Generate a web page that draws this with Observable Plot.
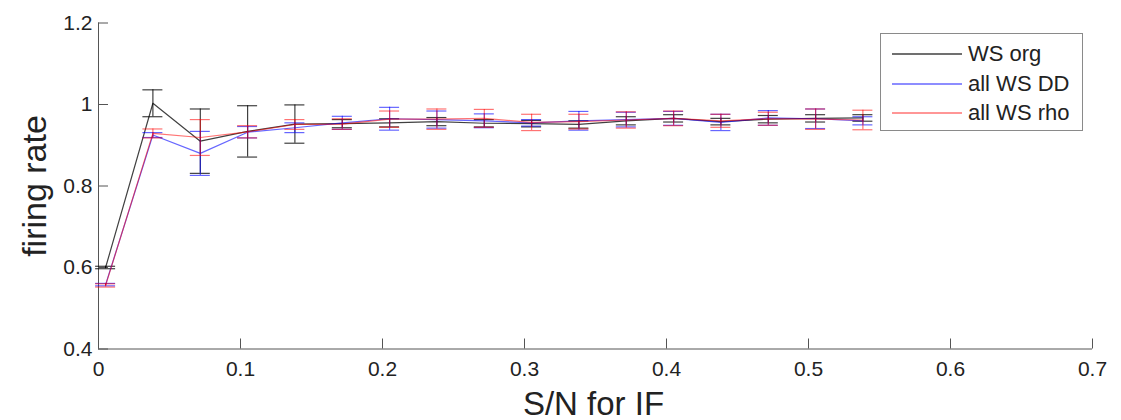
<!DOCTYPE html>
<html>
<head>
<meta charset="utf-8">
<script src="https://cdn.jsdelivr.net/npm/d3@7"></script>
<script src="https://cdn.jsdelivr.net/npm/@observablehq/plot@0.6"></script>
<style>
  html, body { margin: 0; padding: 0; background: #fff; }
  #wrap { position: relative; width: 1121px; height: 420px; font-family: "Liberation Sans", Arial, sans-serif; }
  #legend { position: absolute; left: 880px; top: 33px; width: 201px; height: 96px; border: 1px solid #8a8a8a; background: #fff; box-sizing: content-box; }
  #legend svg.sw { position: absolute; left: 11px; width: 72px; height: 6px; }
  #legend .lbl { position: absolute; left: 87px; font-size: 22px; color: #222; line-height: 24px; white-space: nowrap; }
</style>
</head>
<body>
<div id="wrap"></div>
<script>
// S/N values (x positions of the measurements)
const snValues = [0.005, 0.0383, 0.0717, 0.105, 0.1383, 0.1717, 0.205, 0.2383, 0.2717, 0.305, 0.3383, 0.3717, 0.405, 0.4383, 0.4717, 0.505, 0.5383];

// series names
const seriesNames = ["WS org", "all WS DD", "all WS rho"];

// WS org: mean firing rate and error
const orgMean = [0.600, 1.003, 0.910, 0.934, 0.952, 0.953, 0.955, 0.958, 0.954, 0.953, 0.951, 0.960, 0.966, 0.958, 0.964, 0.966, 0.967];
const orgErr  = [0.003, 0.033, 0.079, 0.063, 0.047, 0.010, 0.010, 0.010, 0.009, 0.008, 0.009, 0.010, 0.009, 0.008, 0.009, 0.009, 0.008];

// all WS DD
const ddMean = [0.558, 0.925, 0.880, 0.932, 0.943, 0.955, 0.965, 0.963, 0.960, 0.955, 0.960, 0.963, 0.966, 0.956, 0.967, 0.965, 0.960];
const ddErr  = [0.003, 0.006, 0.054, 0.014, 0.012, 0.016, 0.028, 0.021, 0.017, 0.008, 0.023, 0.018, 0.017, 0.020, 0.018, 0.024, 0.010];

// all WS rho
const rhoMean = [0.556, 0.929, 0.919, 0.933, 0.951, 0.952, 0.964, 0.964, 0.966, 0.956, 0.958, 0.962, 0.966, 0.960, 0.965, 0.964, 0.962];
const rhoErr  = [0.004, 0.011, 0.044, 0.015, 0.012, 0.013, 0.020, 0.025, 0.022, 0.020, 0.018, 0.020, 0.018, 0.016, 0.016, 0.025, 0.024];

// tick labels
const xTicks = [0, 0.1, 0.2, 0.3, 0.4, 0.5, 0.6, 0.7];
const yTicks = [0.4, 0.6, 0.8, 1.0, 1.2];

const seriesStyle = [
  {color: "#000000", opacity: 0.75},
  {color: "#0000ff", opacity: 0.6},
  {color: "#ff0000", opacity: 0.55}
];

const allMeans = [orgMean, ddMean, rhoMean];
const allErrs = [orgErr, ddErr, rhoErr];

const seriesMarks = [];
allMeans.forEach((means, s) => {
  const rows = snValues.map((x, i) => ({x, y: means[i], lo: means[i] - allErrs[s][i], hi: means[i] + allErrs[s][i]}));
  const st = {stroke: seriesStyle[s].color, strokeOpacity: seriesStyle[s].opacity, strokeWidth: 1.2};
  seriesMarks.push(
    Plot.line(rows, {x: "x", y: "y", ...st}),
    Plot.ruleX(rows, {x: "x", y1: "lo", y2: "hi", ...st}),
    Plot.ruleY(rows, {y: "hi", x1: "x", x2: "x", insetLeft: -10, insetRight: -10, ...st}),
    Plot.ruleY(rows, {y: "lo", x1: "x", x2: "x", insetLeft: -10, insetRight: -10, ...st})
  );
});

const chart = Plot.plot({
  width: 1121,
  height: 420,
  marginLeft: 98,
  marginRight: 29,
  marginTop: 22.5,
  marginBottom: 71.5,
  style: {fontFamily: "Liberation Sans, Arial, sans-serif", color: "#222", background: "#fff", overflow: "visible"},
  x: {domain: [0, 0.7]},
  y: {domain: [0.4, 1.2]},
  marks: [
    // axis lines and inward ticks (MATLAB style)
    Plot.ruleX([0], {stroke: "#555"}),
    Plot.ruleY([0.4], {stroke: "#555"}),
    Plot.ruleY(yTicks, {y: d => d, x1: 0, x2: 0, insetRight: -10, stroke: "#555"}),
    Plot.ruleX(xTicks, {x: d => d, y1: 0.4, y2: 0.4, insetTop: -10, stroke: "#555"}),
    Plot.axisY(yTicks, {tickSize: 0, tickPadding: 6, fontSize: 21, label: null, tickFormat: d => String(+d.toFixed(1))}),
    Plot.axisX(xTicks, {tickSize: 0, tickPadding: 12, fontSize: 21, label: null, tickFormat: d => String(+d.toFixed(1))}),
    ...seriesMarks,
    Plot.text(["firing rate"], {frameAnchor: "left", rotate: -90, dx: -53, textAnchor: "middle", lineAnchor: "bottom", fontSize: 34, fill: "#222", text: d => d}),
    Plot.text(["S/N for IF"], {frameAnchor: "bottom", dy: 55, dx: -2, textAnchor: "middle", lineAnchor: "middle", fontSize: 33, fill: "#222", text: d => d})
  ]
});

const wrap = document.getElementById("wrap");
wrap.appendChild(chart);

// legend
const legend = document.createElement("div");
legend.id = "legend";
const ns = "http://www.w3.org/2000/svg";
seriesNames.forEach((name, s) => {
  const top = 8 + s * 29.5;
  const sw = document.createElementNS(ns, "svg");
  sw.setAttribute("class", "sw");
  sw.style.top = (top + 9) + "px";
  const ln = document.createElementNS(ns, "line");
  ln.setAttribute("x1", 0); ln.setAttribute("x2", 70);
  ln.setAttribute("y1", 3); ln.setAttribute("y2", 3);
  ln.setAttribute("stroke", seriesStyle[s].color);
  ln.setAttribute("stroke-opacity", seriesStyle[s].opacity);
  ln.setAttribute("stroke-width", 1.6);
  sw.appendChild(ln);
  const lbl = document.createElement("span");
  lbl.className = "lbl";
  lbl.style.top = top + "px";
  lbl.textContent = name;
  legend.appendChild(sw);
  legend.appendChild(lbl);
});
wrap.appendChild(legend);
</script>
</body>
</html>
